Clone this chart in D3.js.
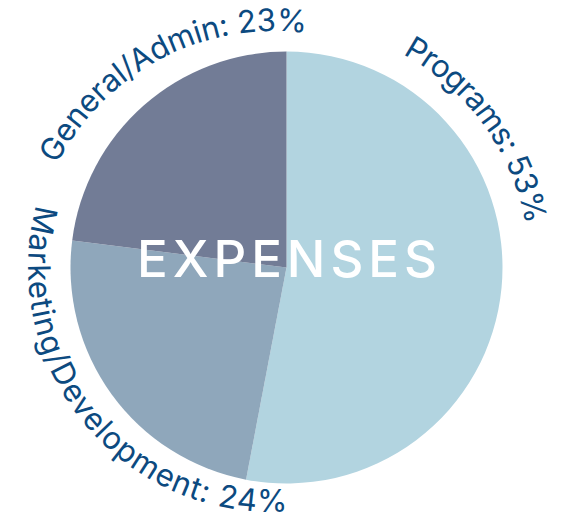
<!DOCTYPE html>
<html>
<head>
<meta charset="utf-8">
<script src="https://cdn.jsdelivr.net/npm/d3@7"></script>
<style>
  html, body { margin: 0; padding: 0; background: #fff; }
  svg { display: block; }
</style>
</head>
<body>
<svg id="pie"></svg>
<script>
// chart data
const categories = ["Programs", "Marketing/Development", "General/Admin"];
const values = [53, 24, 23];
const title = "EXPENSES";

const width = 563, height = 523;
const cx = 286.5, cy = 267.5, radius = 216;
const colors = ["#b2d4e0", "#8fa7bb", "#727c96"];
const labelColor = "#0c4a80";

// where each curved label sits (degrees clockwise from 12 o'clock, offsets from pie centre)
const labelLayout = [
    {from: 28.6, to: 79.8, r: 243, dx: 0, dy: 0, ccw: false},
    {from: 285, to: 176.5, r: 244, dx: -14.5, dy: 0.5, ccw: true},
    {from: -63.2, to: 7.6, r: 243, dx: -12.5, dy: 6.5, ccw: false}
];

const svg = d3.select("#pie")
    .attr("width", width)
    .attr("height", height);

const pie = d3.pie().sort(null).value(d => d);
const arc = d3.arc().innerRadius(0).outerRadius(radius);

const g = svg.append("g").attr("transform", `translate(${cx},${cy})`);

g.selectAll("path.slice")
    .data(pie(values))
    .enter().append("path")
    .attr("class", "slice")
    .attr("d", arc)
    .attr("fill", (d, i) => colors[i]);

// curved labels
const rad = a => a * Math.PI / 180;
const pt = (l, a) => [l.dx + l.r * Math.sin(rad(a)), l.dy - l.r * Math.cos(rad(a))];

labelLayout.forEach((l, i) => {
    const p0 = pt(l, l.from), p1 = pt(l, l.to);
    const span = Math.abs(l.to - l.from);
    const large = span > 180 ? 1 : 0;
    const sweep = l.ccw ? 0 : 1;
    g.append("path")
        .attr("id", "lab" + i)
        .attr("d", `M${p0[0]},${p0[1]} A${l.r},${l.r} 0 ${large} ${sweep} ${p1[0]},${p1[1]}`)
        .attr("fill", "none");

    g.append("text")
        .attr("font-family", "Inter, 'Open Sans', sans-serif")
        .attr("font-size", 31)
        .attr("fill", labelColor)
        .append("textPath")
        .attr("href", "#lab" + i)
        .attr("startOffset", 0)
        .attr("textLength", rad(span) * l.r)
        .attr("lengthAdjust", "spacing")
        .text(`${categories[i]}: ${values[i]}%`);
});

// centre title
svg.append("text")
    .attr("x", 137)
    .attr("y", 277)
    .attr("font-family", "Inter, 'Open Sans', sans-serif")
    .attr("font-size", 51)
    .attr("font-weight", 500)
    .attr("fill", "#fff")
    .attr("textLength", 300)
    .attr("lengthAdjust", "spacing")
    .text(title);
</script>
</body>
</html>
